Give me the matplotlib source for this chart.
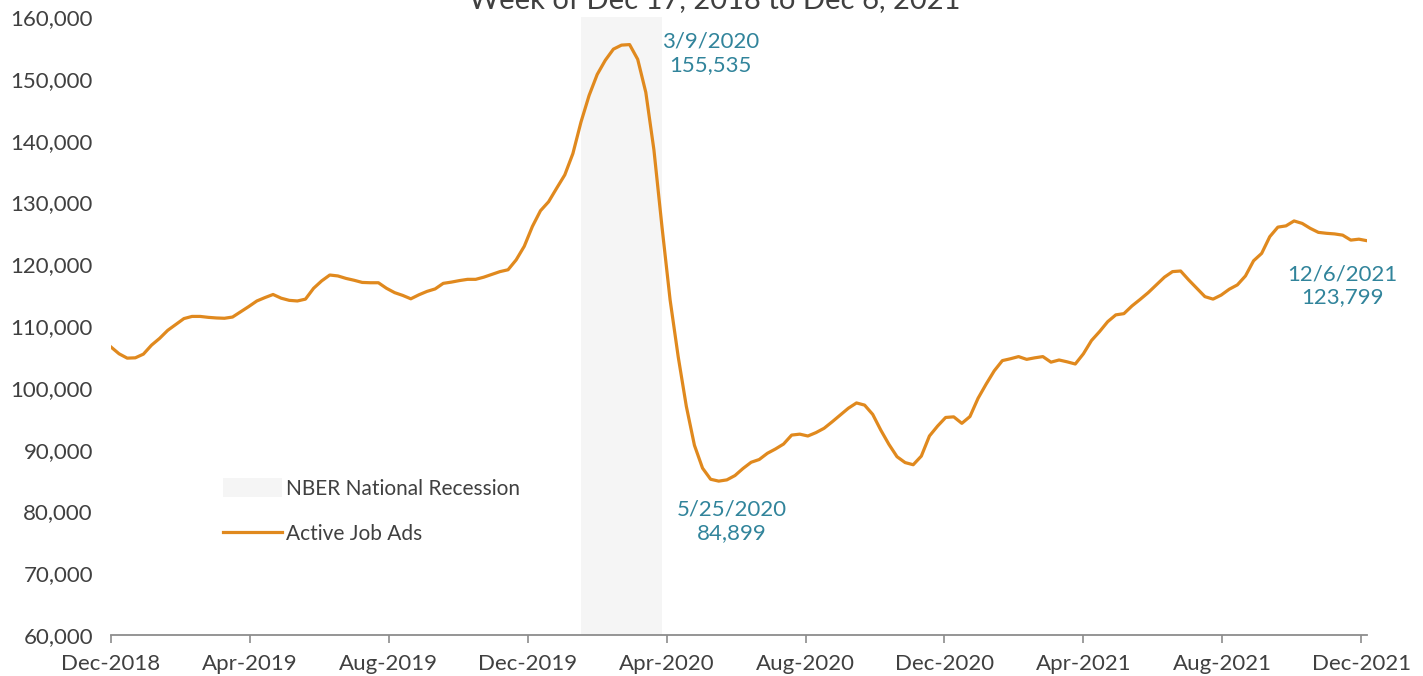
import matplotlib
matplotlib.use("Agg")
from matplotlib import pyplot as plt
from matplotlib.patches import Patch
from matplotlib.lines import Line2D
from matplotlib.ticker import FuncFormatter
import pandas as pd

plt.rcParams['font.family'] = ['Lato', 'DejaVu Sans']

# weekly active job ads, week of Dec 17, 2018 to Dec 6, 2021
first_week = "2018-12-17"
job_ads = [106600, 105500, 104800, 104850, 105450, 106900, 108000, 109300,
           110250, 111200, 111550, 111550, 111400, 111300, 111250, 111450,
           112300, 113150, 114050, 114600, 115100, 114500, 114150, 114050,
           114350, 116100, 117300, 118250, 118100, 117700, 117400, 117050,
           117000, 117000, 116100, 115400, 114950, 114400, 115050, 115600,
           116000, 116900, 117100, 117350, 117550, 117550, 117900, 118350,
           118800, 119100, 120700, 122900, 126100, 128650, 130100, 132300,
           134450, 137900, 143000, 147300, 150700, 153000, 154800, 155450,
           155535, 153150, 147800, 138500, 126000, 114200, 105000, 97000,
           90700, 87000, 85200, 84899, 85100, 85800, 86950, 87950,
           88400, 89400, 90100, 90900, 92350, 92500, 92200, 92750,
           93450, 94500, 95600, 96700, 97550, 97200, 95700, 93150,
           90850, 88850, 87900, 87550, 88950, 92200, 93800, 95200,
           95300, 94250, 95350, 98300, 100600, 102750, 104400, 104700,
           105050, 104600, 104850, 105050, 104150, 104500, 104200, 103850,
           105500, 107650, 109100, 110700, 111800, 112000, 113250, 114300,
           115400, 116650, 117900, 118800, 118900, 117450, 116100, 114750,
           114350, 115000, 115950, 116650, 118100, 120550, 121750, 124450,
           126000, 126200, 127000, 126600, 125800, 125150, 125000, 124900,
           124700, 123900, 124050, 123799]

recession_start = "2020-01-27"
recession_end = "2020-04-06"

tick_labels_every_days = 120
y_ticks = list(range(60000, 160001, 10000))

# labelled points: index into the series
callouts = [64, 75, 155]
callout_offsets = [(81, -9), (13, -40), (-25, -45)]  # pixels

weeks = pd.date_range(first_week, periods=len(job_ads), freq="7D")
x_ticks = pd.date_range(first_week, periods=10, freq=f"{tick_labels_every_days}D")

orange = "#E0891E"
teal = "#31849B"
grey_text = "#404040"

fig = plt.figure(figsize=(14.23, 6.76), dpi=100)
ax = fig.add_axes([111 / 1423, 1 - 635 / 676, (1367 - 111) / 1423, (635 - 17) / 676])

ax.axvspan(pd.Timestamp(recession_start), pd.Timestamp(recession_end),
           color="#F5F5F5", lw=0, zorder=0)
ax.plot(weeks, job_ads, color=orange, lw=2.3, zorder=3)

ax.set_xlim(weeks[0], weeks[-1])
ax.set_ylim(60000, 160000)
ax.set_yticks(y_ticks)
ax.yaxis.set_major_formatter(FuncFormatter(lambda v, p: f"{int(v):,}"))
ax.set_xticks(x_ticks)
ax.set_xticklabels([d.strftime("%b-%Y") for d in x_ticks])

for s in ["top", "right", "left"]:
    ax.spines[s].set_visible(False)
ax.spines["bottom"].set_color("#8C8C8C")
ax.spines["bottom"].set_linewidth(1.3)
ax.tick_params(axis="y", length=0, pad=13, labelsize=16, labelcolor=grey_text)
ax.tick_params(axis="x", length=6, width=1.2, color="#8C8C8C", pad=8,
               labelsize=16, labelcolor=grey_text)

for i, off in zip(callouts, callout_offsets):
    label = f"{weeks[i].month}/{weeks[i].day}/{weeks[i].year}\n{job_ads[i]:,}"
    ax.annotate(label, xy=(weeks[i], job_ads[i]), xytext=off,
                textcoords="offset pixels", ha="center", va="center",
                fontsize=16, color=teal, linespacing=1.2, zorder=4)

fig.text(0.5025, 1 - 8 / 676, "Week of Dec 17, 2018 to Dec 6, 2021",
         ha="center", va="baseline", fontsize=21, color=grey_text)

handles = [Patch(facecolor="#F5F5F5", edgecolor="none"),
           Line2D([0], [0], color=orange, lw=2.3)]
fig.legend(handles, ["NBER National Recession", "Active Job Ads"],
           loc="upper left", bbox_to_anchor=(213 / 1423, 1 - 468 / 676),
           frameon=False, fontsize=15, handlelength=2.8, handleheight=1.0,
           handletextpad=0.2, labelspacing=1.2, borderpad=0,
           labelcolor=grey_text)

fig.savefig("out.png", dpi=100)
